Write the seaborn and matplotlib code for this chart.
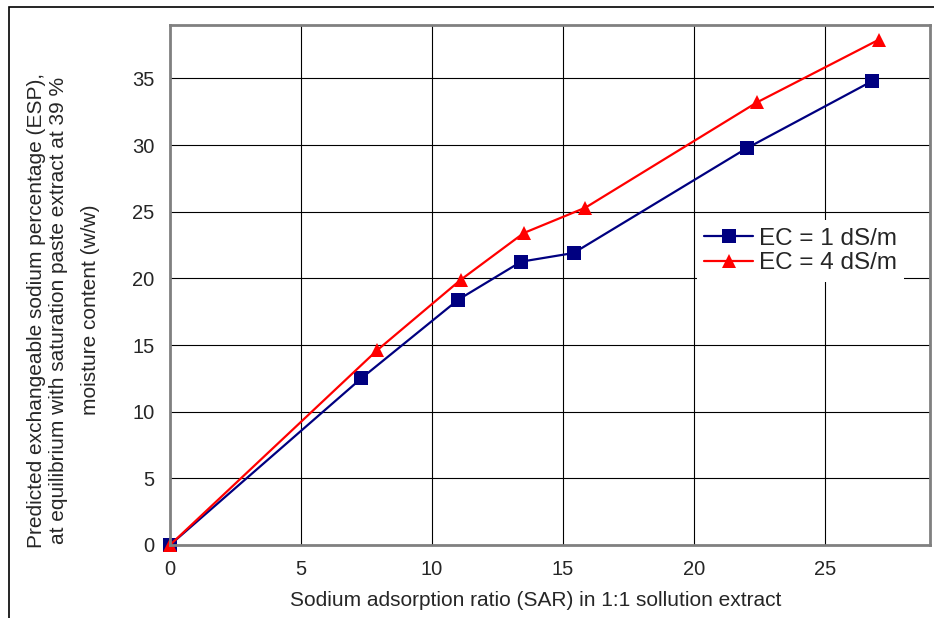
import matplotlib
matplotlib.use("Agg")
import matplotlib.pyplot as plt
from matplotlib.patches import Rectangle
from matplotlib.transforms import Bbox, TransformedBbox
import seaborn as sns
import pandas as pd

# values
sar_ec1 = [0.0, 7.3, 11.0, 13.4, 15.4, 22.0, 26.8]
esp_ec1 = [0.0, 12.5, 18.4, 21.25, 21.9, 29.75, 34.8]
sar_ec4 = [0.0, 7.9, 11.1, 13.5, 15.85, 22.4, 27.05]
esp_ec4 = [0.0, 14.6, 19.9, 23.4, 25.3, 33.2, 37.9]

series_order = ['EC = 1 dS/m', 'EC = 4 dS/m']
series_palette = {'EC = 1 dS/m': '#000080', 'EC = 4 dS/m': '#FF0000'}
series_markers = {'EC = 1 dS/m': 's', 'EC = 4 dS/m': '^'}

ylabel_lines = [
	'Predicted exchangeable sodium percentage (ESP),',
	'at equilibrium with saturation paste extract at 39 %',
	'moisture content (w/w)',
]

data = pd.concat([
	pd.DataFrame({'sar': sar_ec1, 'esp': esp_ec1, 'series': series_order[0]}),
	pd.DataFrame({'sar': sar_ec4, 'esp': esp_ec4, 'series': series_order[1]}),
])

sns.set_style("white")
plt.rcParams['font.family'] = ['Liberation Sans', 'DejaVu Sans']

W, H = 934, 618
fig = plt.figure(figsize=(W / 100, H / 100), dpi=100)
ax = fig.add_axes([170 / W, 1 - 545 / H, 760 / W, 520 / H])

sns.lineplot(
	data=data, x='sar', y='esp', hue='series', style='series',
	hue_order=series_order, palette=series_palette,
	markers=series_markers, dashes=False, sort=False,
	markersize=9.5, markeredgewidth=0, linewidth=1.6, ax=ax,
)
# markers at the origin are drawn whole, as in Excel
for ln in ax.lines:
	ln.set_clip_on(False)

ax.set_xlim(0, 29)
ax.set_ylim(0, 39)
ax.set_xticks(range(0, 30, 5))
ax.set_yticks(range(0, 40, 5))
ax.grid(True, color='black', linewidth=0.8)
ax.set_axisbelow(True)
for s in ax.spines.values():
	s.set_color('#808080')
	s.set_linewidth(2)
ax.tick_params(axis='both', direction='out', length=6, width=1, color='#808080',
	labelsize=14.5, pad=5)

ax.set_xlabel('Sodium adsorption ratio (SAR) in 1:1 sollution extract', fontsize=15)
ax.xaxis.set_label_coords((536 - 170) / 760, (545 - 601) / 520)
ax.xaxis.label.set_verticalalignment('center')
ax.set_ylabel('')

# y label: three rotated lines, clipped at the top like the reference
clip = TransformedBbox(Bbox([[0, 0], [1, 1 - 69 / H]]), fig.transFigure)
for line, xc in zip(ylabel_lines, [37, 59, 90]):
	t = fig.text(xc / W, 1 - 310 / H, line, rotation=90, ha='center', va='center',
		fontsize=15)
	t.set_clip_box(clip)
	t.set_clip_on(True)

ax.legend(
	loc='center left', bbox_to_anchor=((697 - 170) / 760, 1 - (251 - 25) / 520),
	frameon=True, facecolor='white', edgecolor='none', framealpha=1, fancybox=False,
	fontsize=17.5, handlelength=2.0, handletextpad=0.25, borderpad=0.3,
	labelspacing=0.1, borderaxespad=0,
)

# outer chart border (cut off at right and bottom in the reference)
fig.patches.append(Rectangle((9 / W, -0.1), 1.2, 1.1 - 7 / H,
	transform=fig.transFigure, fill=False, edgecolor='black', linewidth=1.2))

fig.savefig('out.png', dpi=100)
